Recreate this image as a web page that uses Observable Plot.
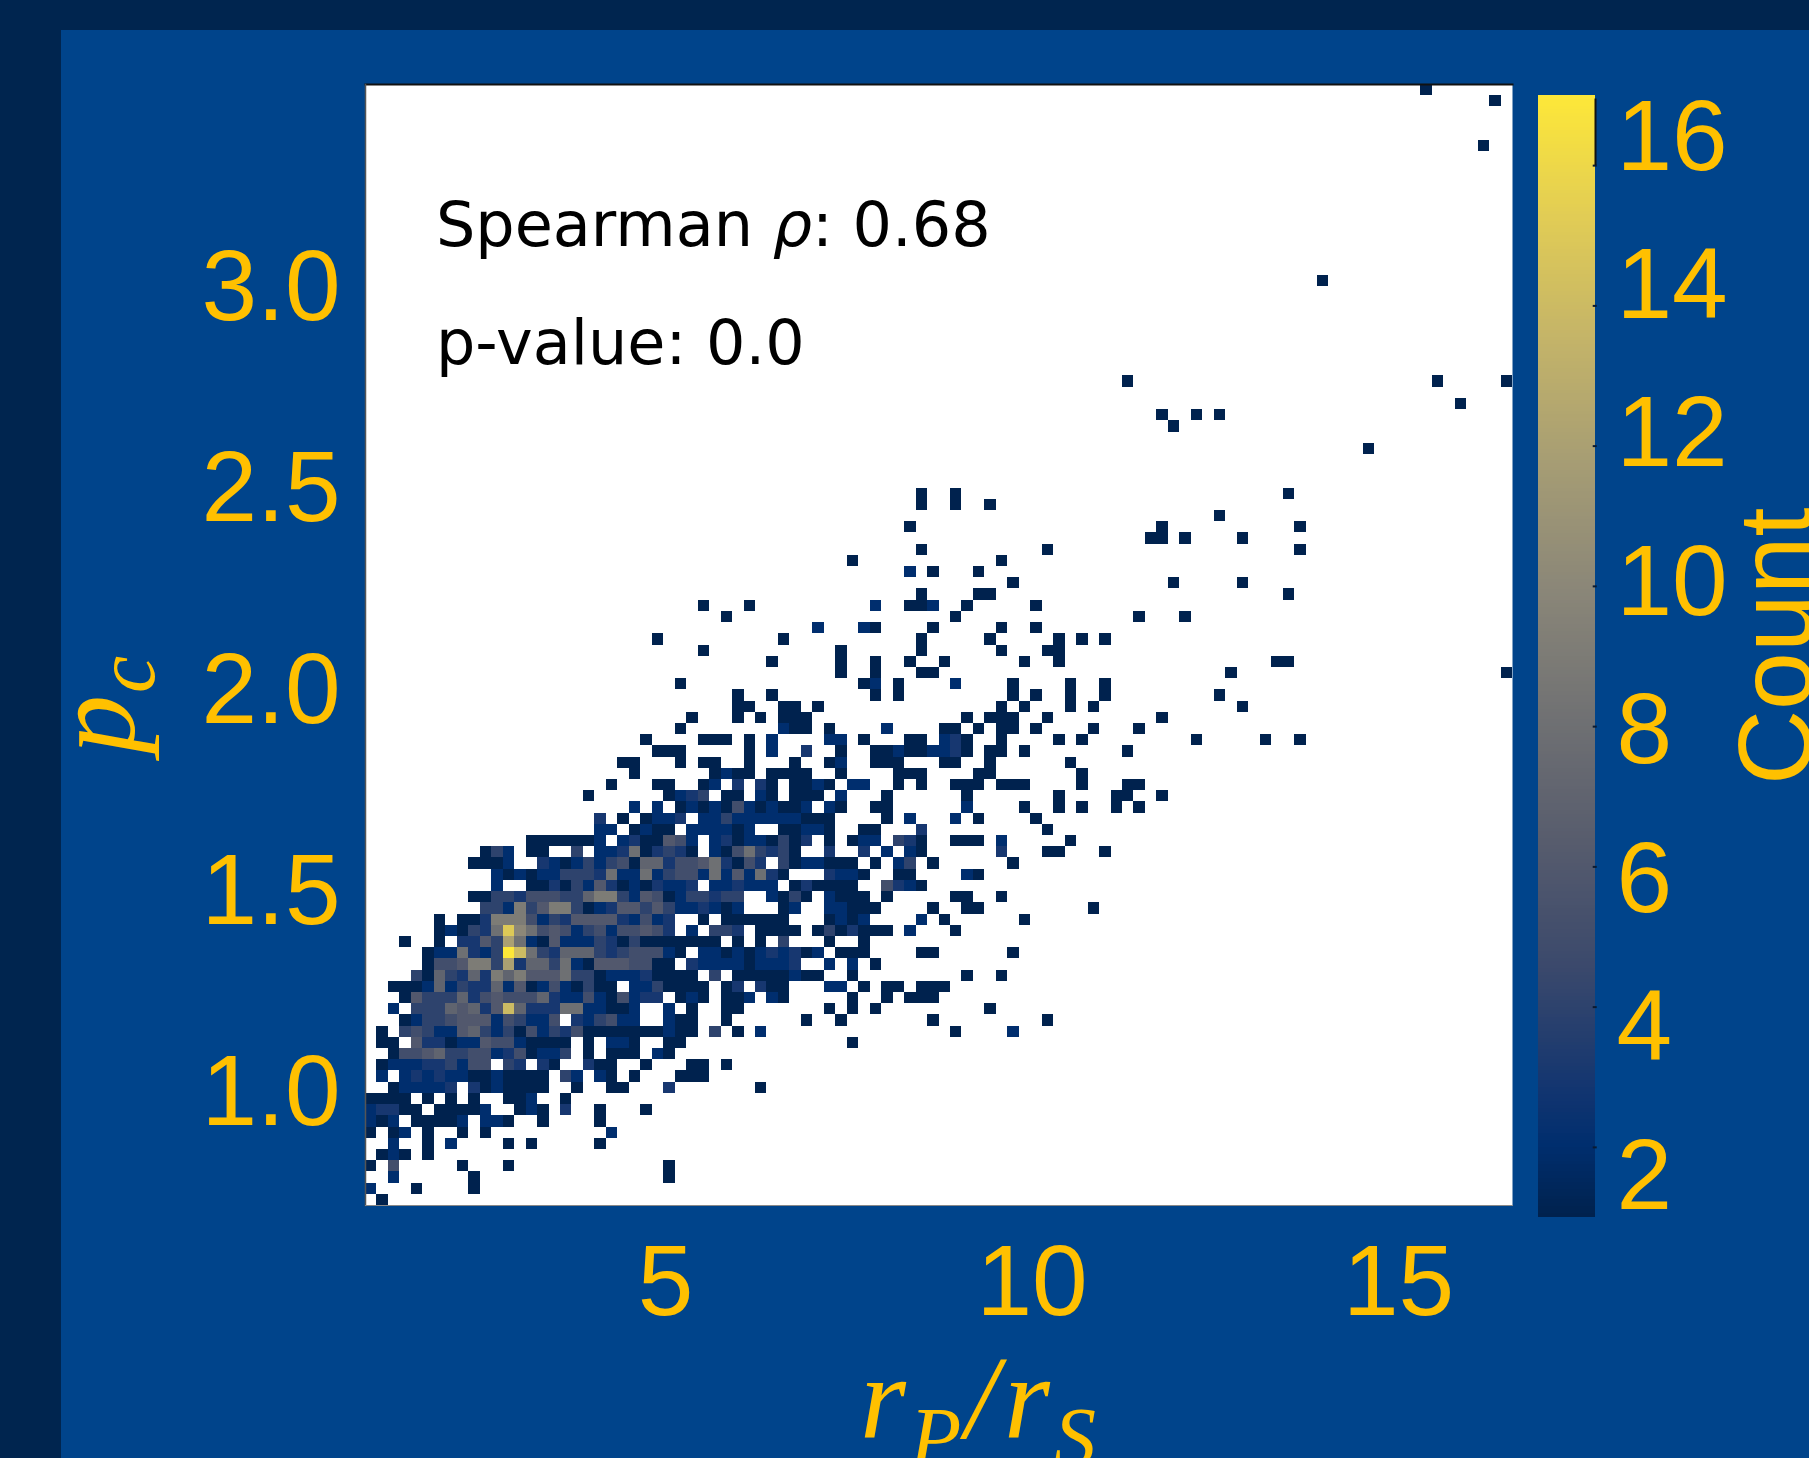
<!DOCTYPE html>
<html>
<head>
<meta charset="utf-8">
<script src="https://cdn.jsdelivr.net/npm/d3@7"></script>
<script src="https://cdn.jsdelivr.net/npm/@observablehq/plot@0.6"></script>
<style>
  html, body { margin: 0; padding: 0; width: 1809px; height: 1458px; overflow: hidden; background: #00254f; }
  #panel { position: absolute; left: 61px; top: 30px; width: 1748px; height: 1428px; background: #00448b; }
  #stage svg { position: absolute; left: 0; top: 0; background: transparent; overflow: hidden; }
</style>
</head>
<body>
<div id="panel"></div>
<div id="stage"></div>
<script>
// --- Values ---
const xDomain = [0.907, 16.555];
const yDomain = [0.717, 3.499];
const binsPerAxis = 100;
const xTickValues = [5, 10, 15];
const yTickValues = [1.0, 1.5, 2.0, 2.5, 3.0];
const countDomain = [1, 17];
const countTicks = [2, 4, 6, 8, 10, 12, 14, 16];
const colorStops = [1, 2, 2.78, 4.56, 6.33, 8.11, 9.89, 11.67, 13.44, 15.22, 17];
const colorValues = ["#00224e", "#002e6e", "#123570", "#3b496c", "#575c6d", "#707173", "#8a8678", "#a59c74", "#c3b369", "#e1cc55", "#fee838"];
const annotationLines = ["Spearman ", "ρ", ": 0.68", "p-value: 0.0"];
const axisLabelCount = "Count";

// Occupied rows of the 2D histogram (row 0 is the bottom) and "column:count" per row
const rowNumbers = [0,1,2,3,4,5,6,7,8,9,10,11,12,13,14,15,16,17,18,19,20,21,22,23,24,25,26,27,28,29,30,31,32,33,34,35,36,37,38,39,40,41,42,43,44,45,46,47,48,49,50,51,52,53,54,55,56,57,58,59,60,61,62,63,67,69,70,71,73,82,94,98,99];
const rowCells = [
"1:1",
"0:2 4:1 9:1",
"2:2 9:1 26:1",
"0:1 2:5 8:1 12:1 26:1",
"1:1 2:2 3:1 5:1",
"2:2 5:1 7:2 12:1 14:1 20:1",
"0:1 2:1 3:2 5:1 8:1 10:1 21:2",
"0:2 1:1 2:2 4:1 5:1 6:1 7:1 8:2 10:2 11:2 12:1 15:1 20:1",
"0:2 1:3 2:3 3:1 4:1 6:1 7:1 8:1 9:1 10:2 13:1 14:2 15:1 17:3 20:1 24:1",
"0:1 1:1 2:1 3:1 5:1 7:1 9:1 12:1 13:1 14:2 17:1",
"2:1 3:2 4:2 5:2 6:2 7:3 9:3 10:1 11:2 12:1 13:1 14:1 15:1 18:1 21:1 22:1 26:3 34:1",
"1:2 3:2 4:3 5:2 6:3 7:2 8:2 9:1 10:1 11:2 12:1 13:1 14:1 15:1 17:4 18:2 20:2 21:1 23:1 27:1 28:1 29:1",
"1:1 2:2 3:2 4:2 5:3 6:3 7:4 8:2 9:5 10:5 12:4 13:3 15:3 16:1 19:3 20:1 21:1 24:1 28:1 29:1 31:1",
"2:1 3:5 4:5 5:6 6:7 7:4 8:4 9:5 10:5 11:2 12:3 13:5 14:1 15:2 16:2 17:4 19:1 21:1 22:1 23:1 25:2 26:1",
"1:1 2:1 4:6 5:3 6:3 7:1 8:2 9:2 10:6 11:5 12:5 13:2 14:1 15:1 16:1 17:1 19:1 21:2 22:2 23:1 26:1 27:1 42:1",
"1:1 3:4 4:5 5:4 6:2 7:2 8:6 9:7 10:4 11:2 12:4 13:1 14:5 15:2 16:4 17:3 18:5 19:1 20:1 21:1 22:1 23:1 24:1 25:1 26:2 27:1 28:1 30:4 32:1 34:2 51:1 56:2",
"3:1 4:2 5:4 6:4 7:5 8:6 9:6 10:6 11:2 12:5 13:4 14:2 15:2 16:5 18:3 19:2 20:4 21:5 22:2 23:2 26:2 27:1 28:1 31:1 38:1 41:1 49:1 59:1",
"2:2 4:4 5:4 6:4 7:7 8:6 9:7 10:3 11:6 12:14 13:7 14:3 15:3 16:3 17:8 18:8 19:2 20:2 21:1 22:1 23:2 26:2 28:1 31:1 32:1 40:1 42:1 44:1 54:1",
"3:1 4:6 5:4 6:4 7:4 8:7 9:3 10:5 11:6 12:5 13:5 14:5 15:7 16:3 17:2 18:2 19:5 20:2 21:1 22:5 23:2 24:3 25:3 27:1 28:2 29:1 31:1 32:1 33:2 35:2 36:1 42:1 45:1 47:1 48:1 49:1",
"2:1 3:1 4:1 5:2 6:7 7:2 8:4 9:3 10:3 11:7 12:2 13:6 14:1 15:2 16:5 17:2 18:1 19:4 20:1 21:1 23:2 24:2 25:4 26:1 27:1 28:1 29:1 31:1 32:3 34:3 35:1 36:1 40:2 41:2 43:1 45:1 46:1 48:1 49:1 50:1",
"4:4 5:1 6:7 7:4 8:3 9:7 10:3 11:9 12:7 13:9 14:6 15:6 16:6 17:8 18:4 19:4 20:1 21:2 22:2 23:2 24:3 25:1 26:1 27:1 28:1 30:4 32:1 33:1 34:1 35:1 36:1 37:2 38:1 39:1 42:1 52:1 55:1",
"5:1 6:5 7:5 8:6 9:9 10:9 11:4 12:12 13:3 14:7 15:7 16:4 17:8 18:2 19:1 20:6 21:6 22:6 23:5 24:5 25:1 26:1 28:3 29:2 30:2 31:2 32:2 33:1 34:2 35:2 36:2 37:3 40:2 42:2 44:1",
"5:1 6:2 7:2 8:8 9:3 10:2 11:4 12:17 13:14 14:8 15:4 16:3 17:7 18:7 19:7 20:4 21:3 22:4 23:5 24:5 25:5 26:2 27:1 29:2 30:2 31:1 32:2 33:1 34:2 35:3 36:2 37:3 38:1 39:2 41:1 42:1 43:1 48:1 49:1 56:1",
"3:1 6:1 8:3 9:3 10:6 11:4 12:12 13:8 14:2 15:1 16:6 17:2 18:2 19:2 20:4 21:3 22:1 23:4 24:1 25:1 26:1 27:1 28:1 29:1 30:1 32:1 34:1 36:4 40:1 43:1",
"6:1 7:2 8:1 9:4 10:3 11:8 12:15 13:10 14:8 15:5 16:6 17:5 18:2 19:4 20:5 21:2 22:5 23:5 24:6 25:5 26:3 28:2 30:4 31:4 32:3 34:1 35:1 36:1 37:1 39:1 40:4 41:1 42:3 43:1 44:1 45:1 47:2 51:1",
"6:1 8:1 9:1 10:3 11:9 12:9 13:9 14:5 15:2 16:4 17:3 18:6 19:6 20:6 21:6 22:3 23:2 24:5 25:2 26:3 29:1 31:1 32:1 33:1 34:1 35:1 36:1 40:1 41:2 42:1 43:2 48:2 50:1 57:1",
"10:4 11:4 12:2 13:9 14:4 15:6 16:9 17:9 18:4 19:1 20:2 21:3 22:6 23:6 24:4 25:6 26:4 27:2 28:2 29:3 30:2 31:1 32:2 36:1 37:2 40:2 41:2 42:1 43:1 44:1 49:1 52:1 53:1 63:1",
"9:1 10:1 11:4 12:4 13:3 14:5 15:5 16:5 17:4 18:4 19:7 20:9 21:9 22:4 23:2 24:6 25:5 26:1 27:2 28:4 29:4 30:3 31:4 32:4 35:2 36:1 37:4 38:1 40:2 41:1 42:1 43:1 45:1 51:1 52:1 55:1",
"11:2 14:1 15:1 16:3 17:1 18:4 19:2 20:6 21:3 22:1 23:2 24:1 25:3 26:2 27:2 28:3 30:2 31:2 32:3 33:2 34:2 35:2 37:1 38:3 39:1 40:1 41:1 42:1 45:5 46:3 47:2 48:1",
"11:2 12:1 13:2 14:1 15:2 16:2 17:4 18:4 19:4 20:3 21:8 22:2 23:2 24:8 25:2 26:4 27:5 28:5 29:2 30:8 31:2 32:6 33:2 34:8 35:3 36:1 40:3 41:2 42:2 43:1 46:1 47:1 52:2 53:1",
"9:1 10:1 11:1 12:2 15:3 16:2 17:1 18:2 19:4 20:2 21:4 22:5 23:1 24:7 25:7 26:3 27:5 28:5 29:6 30:8 31:3 32:1 33:5 34:3 36:4 37:1 38:2 39:2 40:1 41:1 42:1 44:1 46:2 47:4 49:1 56:1",
"10:1 11:4 12:2 14:1 15:1 18:4 20:2 21:2 22:3 23:8 24:1 25:3 26:4 27:3 28:1 30:2 31:1 32:5 33:8 34:4 35:3 36:4 37:1 40:3 43:3 45:2 47:2 48:1 55:3 59:1 60:1 64:1",
"14:1 15:1 16:1 17:1 18:1 19:1 20:2 22:2 23:3 24:1 25:1 26:6 27:5 28:2 30:2 31:3 32:1 33:2 34:2 35:1 36:4 37:1 38:3 40:1 42:1 43:2 44:2 46:4 47:3 48:1 51:1 52:1 53:1 55:2 61:1",
"20:2 21:2 23:1 24:2 25:1 26:1 28:2 29:2 30:2 31:2 32:1 33:2 36:1 37:1 38:2 39:2 40:1 43:1 44:1 48:3 59:1",
"20:3 22:1 24:1 25:2 26:2 27:3 29:2 30:2 31:4 32:2 33:2 34:2 35:2 36:2 37:2 38:1 39:1 40:1 45:1 47:2 51:2 53:1 58:1",
"23:2 25:2 27:1 28:2 29:1 30:2 31:1 32:5 33:2 34:1 35:2 36:1 37:1 38:2 40:2 41:1 44:1 45:1 52:2 57:1 60:1 62:1 65:1 67:1",
"19:1 26:1 27:2 28:3 29:4 31:1 32:1 34:2 35:1 37:1 38:1 39:1 41:2 45:1 52:1 60:1 65:1 66:1 69:1",
"21:1 25:1 26:1 29:1 30:2 32:3 34:3 35:1 37:1 38:1 39:2 40:1 42:2 43:2 46:1 48:1 51:1 52:1 53:1 55:1 56:1 57:1 62:1 66:1 67:1",
"23:1 30:1 31:2 32:1 33:1 35:1 36:1 37:1 38:1 41:1 46:1 47:1 48:1 53:1 54:1 62:1",
"22:1 23:1 27:1 29:1 30:1 33:1 37:1 40:1 41:2 44:1 45:1 46:1 50:1 51:1 54:1 61:1",
"25:1 26:1 27:1 33:1 35:2 38:3 41:1 44:1 45:1 46:2 47:1 48:1 49:2 50:2 51:3 52:1 54:1 55:1 57:1 66:1",
"24:1 29:1 30:1 31:1 33:1 35:2 40:2 41:2 43:1 47:1 48:1 50:2 51:3 52:1 55:1 60:1 62:1 72:1 78:1 81:1",
"27:1 36:2 37:1 38:1 40:1 45:2 50:1 51:1 53:1 55:1 56:1 58:1 63:1 67:1",
"28:1 32:1 34:1 36:1 37:1 38:1 52:1 54:1 55:1 56:1 59:1 69:1",
"32:1 33:1 36:1 37:1 39:1 55:1 57:1 61:1 63:1 76:1",
"32:1 35:1 44:1 46:1 56:1 58:1 61:1 64:1 74:1",
"27:1 43:1 44:2 46:1 51:2 56:1 61:1 64:1",
"41:1 44:1 48:1 49:1 75:1 99:1",
"35:1 41:1 44:1 47:1 50:1 57:1 60:1 79:1 80:1",
"29:1 41:1 48:1 55:1 59:1 60:1",
"25:1 36:1 48:1 54:1 60:1 62:1 64:1",
"39:2 43:2 44:1 49:1 55:1 58:1",
"31:1 51:1 67:1 71:1",
"29:1 33:1 44:2 47:1 48:1 49:2 52:1 58:1",
"48:1 53:1 54:1 80:1",
"56:1 70:1 76:1",
"47:2 49:1 53:1",
"42:1 55:1",
"48:1 59:1 81:1",
"68:1 69:1 71:1 76:1",
"47:1 69:1 81:1",
"74:1",
"48:1 51:1 54:1",
"48:1 51:1 80:1",
"87:1",
"70:1",
"69:1 72:1 74:1",
"95:1",
"66:1 93:1 99:1",
"83:1",
"97:1",
"98:1",
"92:1"
];

// --- Styling ---
const gold = "#ffc000";
const sans = "'Liberation Sans', Arial, sans-serif";
const serif = "'Liberation Serif', serif";
const W = 1809, H = 1458;
const colorScale = {type: "linear", domain: colorStops, range: colorValues};

// --- Table built from the lists above ---
const xStep = (xDomain[1] - xDomain[0]) / binsPerAxis;
const yStep = (yDomain[1] - yDomain[0]) / binsPerAxis;
const histogram = rowNumbers.flatMap((row, i) =>
  rowCells[i].split(" ").map(pair => {
    const [col, count] = pair.split(":").map(Number);
    return {
      x1: xDomain[0] + col * xStep, x2: xDomain[0] + (col + 1) * xStep,
      y1: yDomain[0] + row * yStep, y2: yDomain[0] + (row + 1) * yStep,
      count
    };
  }));

// --- Main panel ---
const main = Plot.plot({
  width: W, height: H,
  marginLeft: 365, marginRight: W - 1512, marginTop: 84, marginBottom: H - 1205,
  style: {background: "transparent", overflow: "hidden"},
  x: {domain: xDomain},
  y: {domain: yDomain},
  color: colorScale,
  marks: [
    Plot.frame({fill: "white", stroke: null}),
    Plot.rect(histogram, {x1: "x1", x2: "x2", y1: "y1", y2: "y2", fill: "count", shapeRendering: "crispEdges"}),
    Plot.frame({anchor: "top", stroke: "#111", strokeWidth: 2}),
    Plot.frame({anchor: "left", stroke: "#555", strokeWidth: 1.5}),
    Plot.frame({anchor: "bottom", stroke: "#888", strokeWidth: 1}),
    Plot.axisX(xTickValues, {anchor: "bottom", tickSize: 0, tickPadding: 38, fontSize: 100, fontFamily: sans, color: gold, fill: gold, label: null}),
    Plot.axisY(yTickValues, {anchor: "left", tickSize: 0, tickPadding: 25, fontSize: 100, fontFamily: sans, color: gold, fill: gold, label: null,
      tickFormat: d => d.toFixed(1), dy: 2})
  ]
});

// Rich text that needs tspans (italics and subscripts)
function rich(svg, x, y, parts, opts = {}) {
  const t = d3.select(svg).append("text")
    .attr("transform", opts.rotate ? `translate(${x},${y}) rotate(${opts.rotate})` : `translate(${x},${y})`)
    .attr("text-anchor", "start")
    .attr("font-family", opts.family).attr("font-size", opts.size)
    .attr("fill", opts.fill);
  parts.forEach(p => {
    const s = t.append("tspan").text(p.text);
    if (p.italic) s.attr("font-style", "italic");
    if (p.size) s.attr("font-size", p.size);
    if (p.dy) s.attr("dy", p.dy);
    if (p.dx) s.attr("dx", p.dx);
  });
}
rich(main, 436, 246, [{text: annotationLines[0]}, {text: annotationLines[1], italic: true}, {text: annotationLines[2]}],
  {family: "'DejaVu Sans'", size: 62, fill: "black"});
rich(main, 436, 364, [{text: annotationLines[3]}], {family: "'DejaVu Sans'", size: 62, fill: "black"});
rich(main, 860, 1438, [
  {text: "r", italic: true},
  {text: "P", italic: true, size: 84, dy: 28, dx: 4},
  {text: "/", italic: true, dy: -28, dx: 4},
  {text: "r", italic: true, dx: 6},
  {text: "S", italic: true, size: 84, dy: 28, dx: 4}
], {family: serif, size: 118, fill: gold});
rich(main, 134, 754, [
  {text: "p", italic: true},
  {text: "c", italic: true, size: 84, dy: 20, dx: 2}
], {family: serif, size: 118, fill: gold, rotate: -90});

// --- Colour bar: ramp and small tick stubs, on its own count scale ---
const rampValues = d3.range(countDomain[0], countDomain[1], 0.05);
const bar = Plot.plot({
  width: W, height: H,
  marginLeft: 1538, marginRight: W - 1595, marginTop: 95, marginBottom: H - 1217,
  style: {background: "transparent", overflow: "hidden"},
  x: {domain: [0, 1], axis: null},
  y: {domain: countDomain, axis: null},
  color: colorScale,
  marks: [
    Plot.rect(rampValues, {x1: 0, x2: 1, y1: d => d, y2: d => d + 0.05, fill: d => d, shapeRendering: "crispEdges"}),
    Plot.ruleY(countTicks, {x1: 0.96, x2: 1.03, stroke: "#0a1a30", strokeWidth: 2}),
    Plot.ruleX([1], {y1: 16, y2: 16.95, stroke: "#111", strokeWidth: 2})
  ]
});

// --- Colour bar labels, which sit on their own spacing in the picture ---
const barLabels = Plot.plot({
  width: W, height: H,
  marginLeft: 1616, marginRight: 0, marginTop: 0, marginBottom: 0,
  style: {background: "transparent", overflow: "hidden"},
  x: {axis: null, domain: [0, 1]},
  y: {domain: [countTicks[0], countTicks[countTicks.length - 1]], range: [1176, 137], axis: null},
  marks: [
    Plot.text(countTicks, {y: d => d, text: d => String(d), frameAnchor: "left", textAnchor: "start", fontSize: 100, fontFamily: sans, fill: gold, lineAnchor: "middle"}),
  ]
});
rich(barLabels, 1811, 785, [{text: axisLabelCount}], {family: sans, size: 104, fill: gold, rotate: -90});

const stage = document.getElementById("stage");
stage.append(main, bar, barLabels);
</script>
</body>
</html>
